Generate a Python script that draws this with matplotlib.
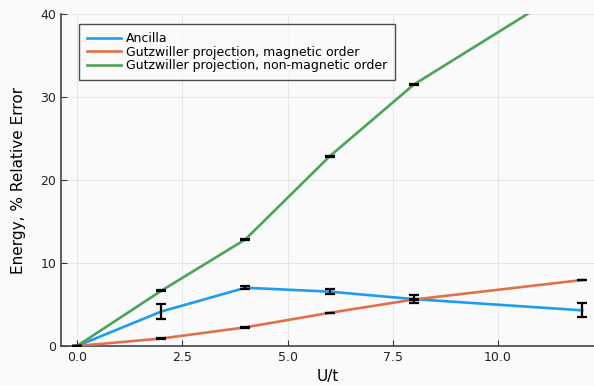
import numpy as np
import matplotlib
matplotlib.use("Agg")
from matplotlib import pyplot as plt

# data
u = [0, 2, 4, 6, 8, 12]
ancilla = [0.0, 4.15, 7.02, 6.55, 5.65, 4.3]
ancilla_err = [0.0, 0.95, 0.15, 0.3, 0.45, 0.85]
gutz_mag = [0.0, 0.9, 2.25, 4.0, 5.6, 7.95]
gutz_mag_err = [0.0, 0.02, 0.02, 0.02, 0.02, 0.02]
gutz_nonmag = [0.0, 6.65, 12.85, 22.85, 31.5, 44.1]
gutz_nonmag_err = [0.0, 0.05, 0.05, 0.05, 0.05, 0.05]

labels = ["Ancilla", "Gutzwiller projection, magnetic order",
          "Gutzwiller projection, non-magnetic order"]
colors = ["#1f9cf0", "#e0704c", "#4aa357"]

bg = "#fafafa"
fig = plt.figure(figsize=(5.94, 3.86), dpi=100, facecolor=bg)
ax = fig.add_axes([0.1027, 0.1036, 0.8973, 0.8601], facecolor=bg)

series = [(ancilla, ancilla_err), (gutz_mag, gutz_mag_err), (gutz_nonmag, gutz_nonmag_err)]
for (y, e), lab, c in zip(series, labels, colors):
    ax.plot(u, y, color=c, lw=1.9, label=lab, zorder=3)
    ax.errorbar(u, y, yerr=e, fmt="none", ecolor="black", elinewidth=1.6,
                capsize=3.5, capthick=1.6, zorder=4)

ax.set_xlim(-0.38, 12.28)
ax.set_ylim(0, 40)
ax.set_xticks([0, 2.5, 5, 7.5, 10])
ax.set_xticklabels(["0.0", "2.5", "5.0", "7.5", "10.0"])
ax.set_yticks([0, 10, 20, 30, 40])
ax.grid(True, color="#e6e6e6", lw=0.7)
ax.set_axisbelow(True)
for s in ["top", "right"]:
    ax.spines[s].set_visible(False)
for s in ["left", "bottom"]:
    ax.spines[s].set_color("#444444")
    ax.spines[s].set_linewidth(1.2)
ax.tick_params(direction="in", length=4, colors="#333333", labelsize=9, labelcolor="#222222")

ax.set_xlabel("U/t", fontsize=11, labelpad=4)
ax.set_ylabel("Energy, % Relative Error", fontsize=11, labelpad=10)

leg = ax.legend(loc="upper left", bbox_to_anchor=(0.034, 0.97), borderaxespad=0,
                fontsize=9, frameon=True, fancybox=False, handlelength=2.7,
                borderpad=0.65, labelspacing=0.05, handletextpad=0.4)
leg.get_frame().set_edgecolor("#222222")
leg.get_frame().set_facecolor(bg)
leg.get_frame().set_linewidth(1.0)

plt.savefig("out.png", dpi=100, facecolor=bg)
